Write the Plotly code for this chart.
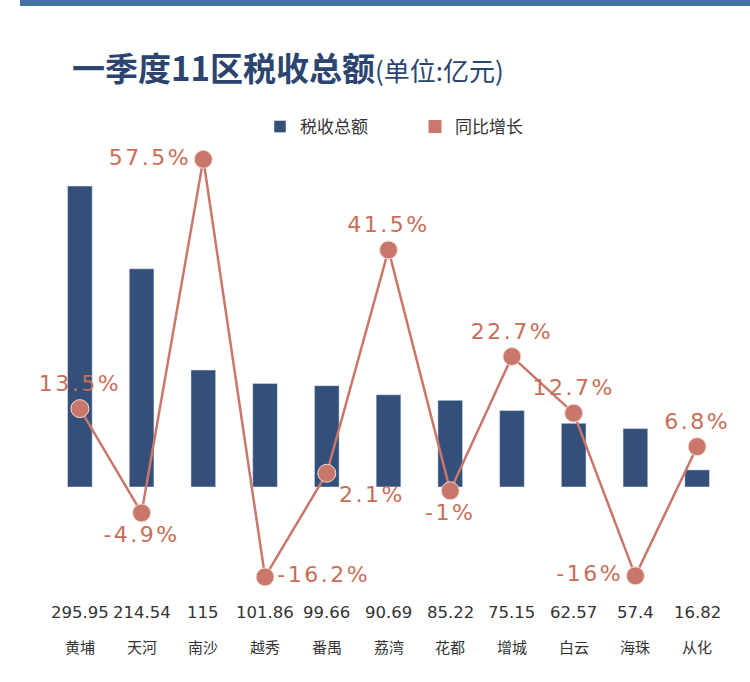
import plotly.graph_objects as go

districts = ["黄埔", "天河", "南沙", "越秀", "番禺", "荔湾", "花都", "增城", "白云", "海珠", "从化"]
tax_total = [295.95, 214.54, 115, 101.86, 99.66, 90.69, 85.22, 75.15, 62.57, 57.4, 16.82]
yoy_growth = [13.5, -4.9, 57.5, -16.2, 2.1, 41.5, -1, 22.7, 12.7, -16, 6.8]
value_labels = ["295.95", "214.54", "115", "101.86", "99.66", "90.69", "85.22", "75.15", "62.57", "57.4", "16.82"]
growth_labels = ["13.5%", "-4.9%", "57.5%", "-16.2%", "2.1%", "41.5%", "-1%", "22.7%", "12.7%", "-16%", "6.8%"]

BAR = "#34507a"
SALMON = "#c9776a"
TEXT_SALMON = "#c86d57"

W, H = 750, 682
ML, MR, MT, MB = 49, 22, 140, 92
PH = H - MT - MB
PW = W - ML - MR

def py(pix):
    return (H - MB - pix) / PH

def px(pix):
    return (pix - ML) / PW

fig = go.Figure()
fig.add_trace(go.Bar(
    x=districts, y=tax_total, name="税收总额",
    marker=dict(color=BAR), width=0.4, showlegend=True,
))
fig.add_trace(go.Scatter(
    x=districts, y=yoy_growth, yaxis="y2", mode="lines+markers+text",
    line=dict(color=SALMON, width=2.5),
    marker=dict(color=SALMON, size=18, line=dict(color="#f3dcd6", width=1)),
    text=[f"<span style='letter-spacing:2.5px'>{t}</span>" for t in growth_labels],
    textposition=["top center", "bottom center", "middle left", "middle right", "bottom right",
                  "top center", "bottom center", "top center", "top center", "middle left", "top center"],
    textfont=dict(family="DejaVu Sans", size=22, color=TEXT_SALMON),
    showlegend=False, cliponaxis=False,
))
fig.add_trace(go.Scatter(
    x=[None], y=[None], yaxis="y2", mode="markers", name="同比增长",
    marker=dict(color=SALMON, size=13, symbol="square"), showlegend=True,
))

annotations = []
for d, v in zip(districts, value_labels):
    annotations.append(dict(x=d, xref="x", y=py(612), yref="paper", text=v, showarrow=False,
                            yanchor="middle", font=dict(family="DejaVu Sans", size=16.5, color="#333333")))
    annotations.append(dict(x=d, xref="x", y=py(646), yref="paper", text=d, showarrow=False,
                            yanchor="middle", font=dict(family="Noto Sans CJK SC", size=15, color="#333333")))

annotations.append(dict(
    x=px(70), xref="paper", y=py(67), yref="paper", xanchor="left", yanchor="middle", showarrow=False,
    text="<b>一季度11区税收总额</b><span style='font-size:26px'>(单位:亿元)</span>",
    font=dict(family="Noto Sans CJK SC", size=33, color="#2c4470"),
))

fig.update_layout(
    width=W, height=H,
    margin=dict(l=ML, r=MR, t=MT, b=MB),
    paper_bgcolor="white", plot_bgcolor="white",
    xaxis=dict(showticklabels=False, showgrid=False, zeroline=False, showline=False, range=[-0.5, 10.5]),
    yaxis=dict(range=[-101.3, 341.2], visible=False, showgrid=False, zeroline=False),
    yaxis2=dict(range=[-18.5, 60.9], overlaying="y", visible=False, showgrid=False, zeroline=False),
    legend=dict(orientation="h", x=px(260), xanchor="left", y=py(127), yanchor="middle",
                font=dict(family="Noto Sans CJK SC", size=17, color="#333333"),
                entrywidth=110, entrywidthmode="pixels"),
    annotations=annotations,
    shapes=[dict(type="rect", xref="paper", yref="paper", x0=px(20), x1=px(750), y0=py(6), y1=py(-2),
                 fillcolor="#4472a8", line=dict(width=0), layer="above")],
    showlegend=True,
)

fig.write_html("out.html", config={"displayModeBar": False},
               post_script="document.body.style.margin='0';document.body.style.overflow='hidden';")
